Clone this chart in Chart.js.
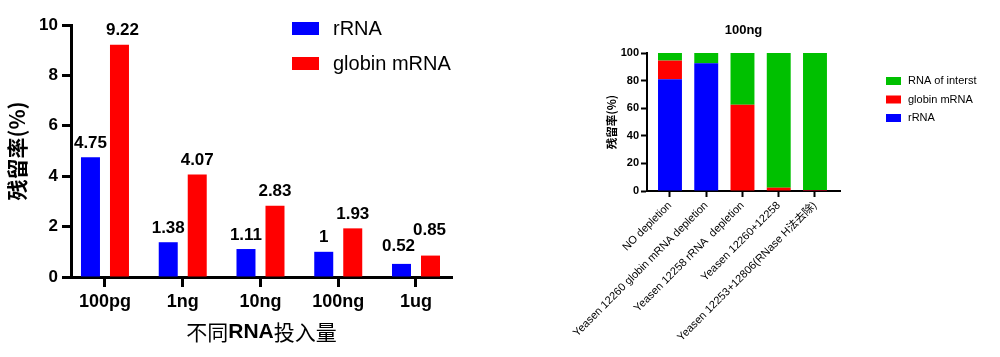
<!DOCTYPE html>
<html><head><meta charset="utf-8">
<script src="https://cdn.jsdelivr.net/npm/chart.js@4.4.1/dist/chart.umd.min.js"></script>
<style>
html,body{margin:0;padding:0;background:#fff;}
#wrap{position:relative;width:1000px;height:357px;overflow:hidden;background:#fff;}
#c1{position:absolute;left:0;top:0;}
#c2{position:absolute;left:500px;top:0;}
</style></head><body>
<div id="wrap"><canvas id="c1" width="500" height="357"></canvas><canvas id="c2" width="500" height="357"></canvas></div>
<script>
// ---------- data: left chart ----------
const inputAmounts = ['100pg', '1ng', '10ng', '100ng', '1ug'];
const rrnaResidual = [4.75, 1.38, 1.11, 1, 0.52];
const globinResidual = [9.22, 4.07, 2.83, 1.93, 0.85];
const leftSeriesNames = ['rRNA', 'globin mRNA'];

// ---------- data: right chart ----------
const methods = ['NO depletion', 'Yeasen 12260 globin mRNA depletion', 'Yeasen 12258 rRNA  depletion', 'Yeasen 12260+12258', 'Yeasen 12253+12806(RNase H法去除)'];
const rrna100 = [81, 92.5, 0, 0, 0.3];
const globin100 = [13.5, 0, 62.5, 2.4, 0.4];
const interest100 = [5.5, 7.5, 37.5, 97.6, 99.3];
const rightSeriesNames = ['rRNA', 'globin mRNA', 'RNA of interst'];

const BLUE = '#0000ff', RED = '#ff0000', GREEN = '#00c000';
const FONT = "Arial, 'Liberation Sans', 'Noto Sans CJK SC', sans-serif";
const CJK = "'Noto Sans CJK SC', Arial, 'Liberation Sans', sans-serif";
const toXY = arr => arr.map((v, i) => ({x: i, y: v}));

function drawMixed(ctx, parts, cx, cy) {
  let total = 0;
  parts.forEach(p => { ctx.font = p.font; p.w = ctx.measureText(p.text).width; total += p.w; });
  let x = cx - total / 2;
  ctx.textAlign = 'left'; ctx.textBaseline = 'middle';
  parts.forEach(p => { ctx.font = p.font; ctx.fillText(p.text, x, cy); x += p.w; });
}

// ---------- left chart ----------
const labelNudge = {'0-4': [-3, -4], '1-4': [-1, -11], '1-0': [3, 0]};
const leftDecor = {
  id: 'leftDecor',
  afterDatasetsDraw(chart) {
    const ctx = chart.ctx;
    ctx.save();
    ctx.fillStyle = '#000';
    ctx.font = 'bold 17px ' + FONT;
    ctx.textAlign = 'center'; ctx.textBaseline = 'middle';
    chart.data.datasets.forEach((ds, di) => {
      chart.getDatasetMeta(di).data.forEach((bar, i) => {
        const n = labelNudge[di + '-' + i] || [0, 0];
        ctx.fillText(String(ds.data[i].y), bar.x + n[0], bar.y - 14 + n[1]);
      });
    });
    ctx.restore();
  },
  afterDraw(chart) {
    const ctx = chart.ctx, a = chart.chartArea;
    ctx.save();
    ctx.fillStyle = '#000';
    ctx.translate(17, (a.top + a.bottom) / 2);
    ctx.rotate(-Math.PI / 2);
    ctx.font = 'bold 21px ' + CJK;
    ctx.textAlign = 'center'; ctx.textBaseline = 'middle';
    ctx.fillText('残留率(%)', 0, 0);
    ctx.restore();
    ctx.save();
    ctx.fillStyle = '#000';
    drawMixed(ctx, [
      {text: '不同', font: '21px ' + CJK},
      {text: 'RNA', font: 'bold 21px ' + FONT},
      {text: '投入量', font: '21px ' + CJK}
    ], (a.left + a.right) / 2, 332);
    const rows = [22, 57];
    chart.data.datasets.forEach((ds, di) => {
      ctx.fillStyle = ds.backgroundColor;
      ctx.fillRect(292, rows[di], 27, 13);
      ctx.fillStyle = '#000';
      ctx.font = '20px ' + FONT;
      ctx.textAlign = 'left'; ctx.textBaseline = 'middle';
      ctx.fillText(ds.label, 333, rows[di] + 7);
    });
    ctx.restore();
  }
};

new Chart(document.getElementById('c1'), {
  type: 'bar',
  data: {
    datasets: [
      {label: leftSeriesNames[0], data: toXY(rrnaResidual), backgroundColor: BLUE, borderWidth: 0},
      {label: leftSeriesNames[1], data: toXY(globinResidual), backgroundColor: RED, borderWidth: 0}
    ]
  },
  options: {
    responsive: false, animation: false, devicePixelRatio: 1,
    layout: {padding: {top: 25, right: 48, left: 0, bottom: 0}},
    datasets: {bar: {categoryPercentage: 0.746, barPercentage: 0.655}},
    plugins: {legend: {display: false}, tooltip: {enabled: false}, title: {display: false}},
    scales: {
      x: {
        type: 'linear', min: -0.437, max: 4.463, offset: false,
        grid: {offset: false, drawOnChartArea: false, drawTicks: true, tickLength: 10, tickWidth: 3, tickColor: '#000'},
        border: {display: true, color: '#000', width: 3},
        ticks: {stepSize: 1, includeBounds: false, autoSkip: false, maxRotation: 0, minRotation: 0, padding: 4,
          color: '#000', font: {family: FONT, size: 18, weight: 'bold'},
          callback: v => inputAmounts[Math.round(v)]},
        afterFit: s => { s.height = 80; }
      },
      y: {
        min: 0, max: 10,
        grid: {drawOnChartArea: false, drawTicks: true, tickLength: 9, tickWidth: 3, tickColor: '#000'},
        border: {display: true, color: '#000', width: 3},
        ticks: {stepSize: 2, padding: 4, color: '#000', font: {family: FONT, size: 17, weight: 'bold'}},
        afterFit: s => { s.width = 71; }
      }
    }
  },
  plugins: [leftDecor]
});

// ---------- right chart ----------
const rightDecor = {
  id: 'rightDecor',
  afterDraw(chart) {
    const ctx = chart.ctx, a = chart.chartArea;
    ctx.save();
    ctx.fillStyle = '#000';
    ctx.font = 'bold 13px ' + FONT;
    ctx.textAlign = 'center'; ctx.textBaseline = 'middle';
    ctx.fillText('100ng', (a.left + a.right) / 2, 30);
    ctx.translate(112, (a.top + a.bottom) / 2);
    ctx.rotate(-Math.PI / 2);
    ctx.font = 'bold 11.5px ' + CJK;
    ctx.fillText('残留率(%)', 0, 0);
    ctx.restore();
    ctx.save();
    const rows = [77, 95.5, 114];
    const order = [2, 1, 0];
    order.forEach((di, r) => {
      const ds = chart.data.datasets[di];
      ctx.fillStyle = ds.backgroundColor;
      ctx.fillRect(386, rows[r], 15, 8);
      ctx.fillStyle = '#000';
      ctx.font = '11px ' + FONT;
      ctx.textAlign = 'left'; ctx.textBaseline = 'middle';
      ctx.fillText(ds.label, 408, rows[r] + 4);
    });
    ctx.restore();
  }
};

new Chart(document.getElementById('c2'), {
  type: 'bar',
  data: {
    datasets: [
      {label: rightSeriesNames[0], data: toXY(rrna100), backgroundColor: BLUE, borderWidth: 0},
      {label: rightSeriesNames[1], data: toXY(globin100), backgroundColor: RED, borderWidth: 0},
      {label: rightSeriesNames[2], data: toXY(interest100), backgroundColor: GREEN, borderWidth: 0}
    ]
  },
  options: {
    responsive: false, animation: false, devicePixelRatio: 1,
    layout: {padding: {top: 53, right: 160, left: 0, bottom: 0}},
    datasets: {bar: {categoryPercentage: 1, barPercentage: 0.66}},
    plugins: {legend: {display: false}, tooltip: {enabled: false}, title: {display: false}},
    scales: {
      x: {
        type: 'linear', stacked: true, min: -0.634, max: 4.69, offset: false,
        grid: {offset: false, drawOnChartArea: false, drawTicks: true, tickLength: 6, tickWidth: 2, tickColor: '#000'},
        border: {display: true, color: '#000', width: 2},
        ticks: {stepSize: 1, includeBounds: false, autoSkip: false, maxRotation: 45, minRotation: 45, padding: 2,
          color: '#000', font: {family: FONT, size: 11},
          callback: v => methods[Math.round(v)]},
        afterFit: s => { s.height = 166; }
      },
      y: {
        stacked: true, min: 0, max: 100,
        grid: {drawOnChartArea: false, drawTicks: true, tickLength: 6, tickWidth: 2, tickColor: '#000'},
        border: {display: true, color: '#000', width: 2},
        ticks: {stepSize: 20, padding: 2, color: '#000', font: {family: FONT, size: 11, weight: 'bold'}},
        afterFit: s => { s.width = 147; }
      }
    }
  },
  plugins: [rightDecor]
});
</script>
</body></html>
